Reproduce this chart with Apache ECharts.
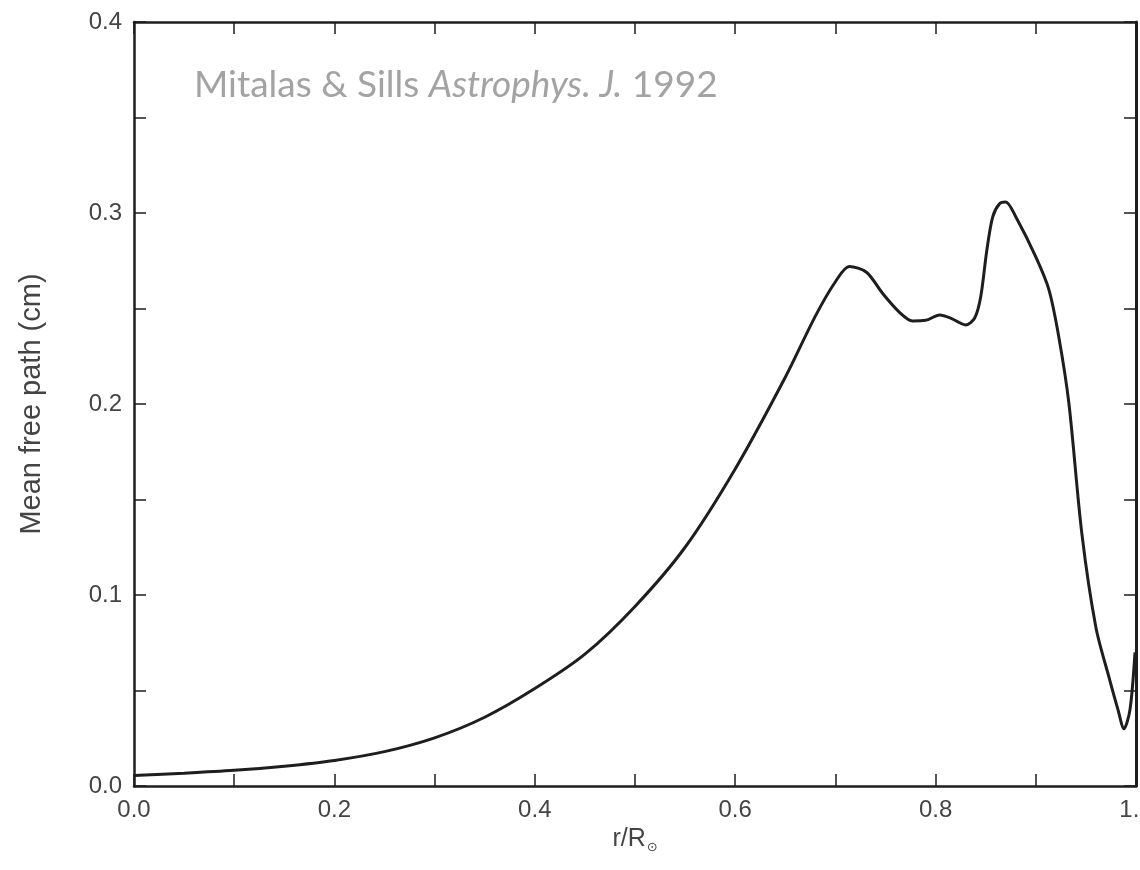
<!DOCTYPE html>
<html>
<head>
<meta charset="utf-8">
<script src="https://cdn.jsdelivr.net/npm/echarts@6/dist/echarts.min.js"></script>
<style>
html,body{margin:0;padding:0;background:#fff;}
#chart{width:1140px;height:870px;}
</style>
</head>
<body>
<div id="chart"></div>
<script>
// Radius fraction r/R_sun
const radius = [0.0, 0.05, 0.1, 0.15, 0.2, 0.25, 0.3, 0.35, 0.4, 0.45, 0.5, 0.55, 0.6, 0.65, 0.68, 0.70, 0.714, 0.731, 0.747, 0.764, 0.777, 0.79, 0.804, 0.815, 0.83, 0.839, 0.845, 0.851, 0.857, 0.864, 0.870, 0.880, 0.900, 0.913, 0.923, 0.933, 0.946, 0.960, 0.973, 0.982, 0.988, 0.994, 0.999];
// Mean free path (cm)
const meanFreePath = [0.0055, 0.0067, 0.0082, 0.0104, 0.0134, 0.018, 0.0252, 0.036, 0.051, 0.069, 0.094, 0.125, 0.166, 0.214, 0.246, 0.264, 0.272, 0.269, 0.258, 0.248, 0.2435, 0.2438, 0.2466, 0.245, 0.2414, 0.245, 0.256, 0.28, 0.298, 0.305, 0.3058, 0.298, 0.277, 0.260, 0.235, 0.2005, 0.132, 0.083, 0.057, 0.040, 0.030, 0.040, 0.07];
const xTickLabels = ['0.0', '0.2', '0.4', '0.6', '0.8', '1.0'];
const yTickLabels = ['0.0', '0.1', '0.2', '0.3', '0.4'];
const titleParts = ['Mitalas & Sills ', 'Astrophys. J.', ' 1992'];
const xName = ['r/R', '⊙'];
const yName = 'Mean free path (cm)';

const seriesData = radius.map((r, i) => [r, meanFreePath[i]]);
const chart = echarts.init(document.getElementById('chart'), null, {renderer: 'canvas'});
const axisColor = '#1e1e1e';
const labelFont = {fontFamily: 'Liberation Sans, Arial, sans-serif', fontSize: 24, color: '#444'};

const option = {
  backgroundColor: '#fff',
  animation: false,
  title: {
    left: 189, top: 62,
    text: '{a|' + titleParts[0] + '}{b|' + titleParts[1] + '}{a|' + titleParts[2] + '}',
    textStyle: {
      rich: {
        a: {fontFamily: 'Lato, sans-serif', fontSize: 37, fontWeight: 'normal', color: '#a3a3a3'},
        b: {fontFamily: 'Lato, sans-serif', fontSize: 37, fontWeight: 'normal', color: '#a3a3a3', fontStyle: 'italic'}
      }
    }
  },
  grid: {left: 134, right: 4, top: 22, bottom: 84, containLabel: false, outerBoundsMode: 'none'},
  xAxis: [{
    type: 'value', min: 0, max: 1, interval: 0.2, position: 'bottom',
    name: '{a|' + xName[0] + '}{b|' + xName[1] + '}', nameLocation: 'middle', nameGap: 38,
    nameTextStyle: {rich: {
      a: {fontFamily: 'Liberation Sans, Arial, sans-serif', fontSize: 25, color: '#444'},
      b: {fontFamily: 'DejaVu Sans, sans-serif', fontSize: 13, color: '#444', padding: [16, 0, 0, 1]}
    }},
    axisLine: {show: true, onZero: false, lineStyle: {color: axisColor, width: 2.5}},
    axisTick: {show: true, inside: true, length: 12, lineStyle: {color: axisColor, width: 1.5}},
    minorTick: {show: true, splitNumber: 2, length: 12, lineStyle: {color: axisColor, width: 1.5}},
    splitLine: {show: false},
    axisLabel: Object.assign({margin: 12, formatter: (v) => xTickLabels[Math.round(v / 0.2)] || ''}, labelFont)
  }, {
    type: 'value', min: 0, max: 1, interval: 0.2, position: 'top',
    axisLine: {show: true, onZero: false, lineStyle: {color: axisColor, width: 2.5}},
    axisTick: {show: true, inside: true, length: 12, lineStyle: {color: axisColor, width: 1.5}},
    minorTick: {show: true, splitNumber: 2, length: 12, lineStyle: {color: axisColor, width: 1.5}},
    splitLine: {show: false}, axisLabel: {show: false}
  }],
  yAxis: [{
    type: 'value', min: 0, max: 0.4, interval: 0.1, position: 'left',
    name: yName, nameLocation: 'middle', nameGap: 88, nameRotate: 90,
    nameTextStyle: {fontFamily: 'Liberation Sans, Arial, sans-serif', fontSize: 29, color: '#444'},
    axisLine: {show: true, onZero: false, lineStyle: {color: axisColor, width: 2.5}},
    axisTick: {show: true, inside: true, length: 12, lineStyle: {color: axisColor, width: 1.5}},
    minorTick: {show: true, splitNumber: 2, length: 12, lineStyle: {color: axisColor, width: 1.5}},
    splitLine: {show: false},
    axisLabel: Object.assign({margin: 12, formatter: (v) => yTickLabels[Math.round(v / 0.1)] || ''}, labelFont)
  }, {
    type: 'value', min: 0, max: 0.4, interval: 0.1, position: 'right',
    axisLine: {show: true, onZero: false, lineStyle: {color: axisColor, width: 3}},
    axisTick: {show: true, inside: true, length: 12, lineStyle: {color: axisColor, width: 1.5}},
    minorTick: {show: true, splitNumber: 2, length: 12, lineStyle: {color: axisColor, width: 1.5}},
    splitLine: {show: false}, axisLabel: {show: false}
  }],
  series: [{
    type: 'line', xAxisIndex: 0, yAxisIndex: 0,
    data: seriesData, smooth: 0.3, showSymbol: false, symbol: 'none',
    lineStyle: {color: '#1e1e1e', width: 3}
  }]
};
chart.setOption(option);
</script>
</body>
</html>
